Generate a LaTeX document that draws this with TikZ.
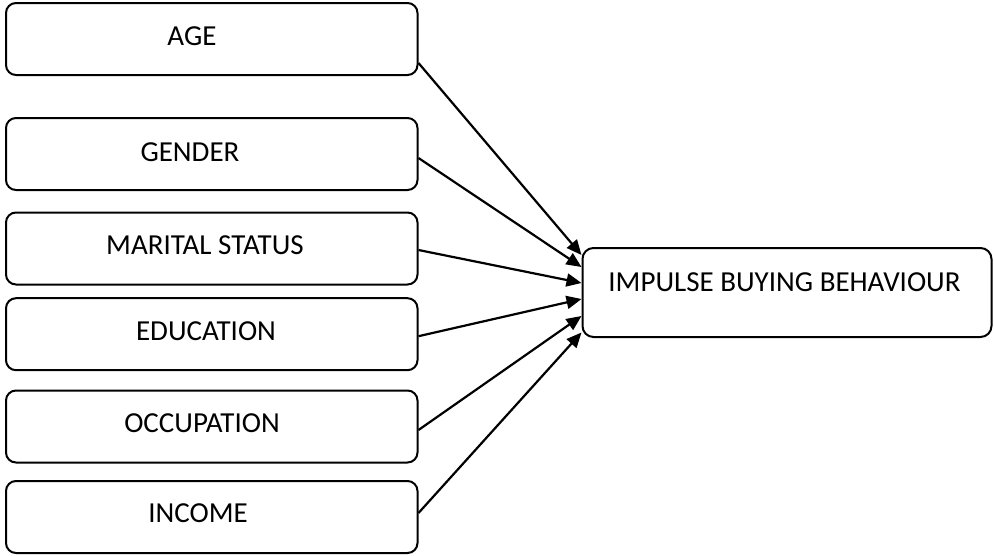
\documentclass[tikz,border=0pt]{standalone}
\usepackage{fontspec}
\setmainfont{Carlito}
\usetikzlibrary{arrows.meta}
\tikzset{
  factor/.style={draw, line width=2pt, rounded corners=10pt, minimum width=411.5pt, minimum height=72pt, inner sep=0pt},
  target/.style={draw, line width=2pt, rounded corners=11pt, minimum width=409pt, minimum height=89pt, inner sep=0pt},
  lbl/.style={inner sep=0pt, font=\fontsize{29}{34}\selectfont},
  conn/.style={line width=2.2pt, -{Triangle[length=15pt,width=13pt]}}
}
\begin{document}
\begin{tikzpicture}[x=1pt,y=-1pt]
\useasboundingbox (0,0) rectangle (994,555);
\node[factor] (age) at (211.75,39) {};
\node[factor] (gender) at (211.75,154) {};
\node[factor] (marital) at (211.75,248.5) {};
\node[factor] (edu) at (211.75,334.2) {};
\node[factor] (occ) at (211.75,426.5) {};
\node[factor] (inc) at (211.75,517) {};
\node[target] (ibb) at (787,292.5) {};
\node[lbl] (tage) at (192,36.5) {AGE};
\node[lbl] (tgender) at (190,152) {GENDER};
\node[lbl] (tmarital) at (205,245) {MARITAL STATUS};
\node[lbl] (tedu) at (206,331.5) {EDUCATION};
\node[lbl] (tocc) at (202,423.5) {OCCUPATION};
\node[lbl] (tinc) at (198,513) {INCOME};
\node[lbl] (tibb) at (784.5,282) {IMPULSE BUYING BEHAVIOUR};
\draw[conn] ([yshift=-24pt]age.east) -- ([yshift=37.5pt]ibb.west);
\draw[conn] ([yshift=-4pt]gender.east) -- ([yshift=25.5pt]ibb.west);
\draw[conn] ([yshift=-1.5pt]marital.east) -- ([yshift=9.5pt]ibb.west);
\draw[conn] ([yshift=-2pt]edu.east) -- ([yshift=-6.5pt]ibb.west);
\draw[conn] ([yshift=-3.5pt]occ.east) -- ([yshift=-23.5pt]ibb.west);
\draw[conn] ([yshift=4pt]inc.east) -- ([yshift=-40pt]ibb.west);
\end{tikzpicture}
\end{document}
